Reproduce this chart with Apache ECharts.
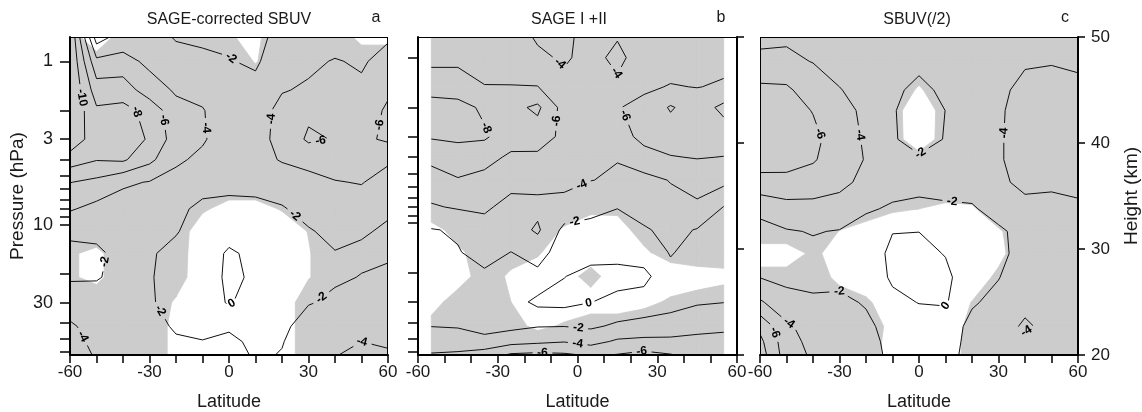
<!DOCTYPE html>
<html>
<head>
<meta charset="utf-8">
<script src="https://cdn.jsdelivr.net/npm/echarts@6/dist/echarts.min.js"></script>
<style>
  html, body { margin: 0; padding: 0; background: #fff; }
  #chart { width: 1142px; height: 412px; }
</style>
</head>
<body>
<div id="chart"></div>
<script>
// Ozone trend (%/decade) versus latitude and pressure, three data sets.
const latitudes = [-60, -50, -40, -30, -20, -10, 0, 10, 20, 30, 40, 50, 60];
const latitudesSage = [-55, -45, -35, -25, -15, -5, 5, 15, 25, 35, 45, 55];
const pressureA = [0.71, 1, 1.5, 2, 3, 4, 5.5, 8, 11, 15, 21, 30, 42, 52, 62.8];
const pressureB = [0.75, 1, 1.5, 2, 3, 4, 5.5, 8, 11, 15, 21, 30, 42, 52, 62.8];
const pressureC = pressureA;

const contourLevels = [-10, -8, -6, -4, -2, 0];
const pressureTicks = [1, 2, 3, 4, 5, 6, 7, 8, 9, 10, 20, 30, 40, 50, 60];
const pressureLabels = [1, 3, 10, 30];
const latLabels = [-60, -30, 0, 30, 60];
const heightRange = [20, 50];
const panelTitles = ['SAGE-corrected SBUV', 'SAGE I +II', 'SBUV(/2)'];
const panelLetters = ['a', 'b', 'c'];

// Trend, SAGE-corrected SBUV (rows follow pressureA, columns follow latitudes)
const trendA = [
  [-12, -1, -3, -3, -1.8, -1.5, -1.6, -1.1, -3.0, -3.4, -3.3, -3.2, -3.8],
  [-12, -4.5, -4.6, -3.6, -2.9, -2.6, -2.1, -1.7, -3.3, -3.7, -4.1, -3.8, -4.6],
  [-12, -7, -7.2, -4.8, -3.8, -3.5, -2.7, -2.6, -3.9, -4.2, -5.0, -4.3, -5.8],
  [-12, -8.3, -8.5, -7.5, -4.5, -4.1, -3.0, -3.2, -4.5, -5.6, -5.7, -5.3, -6.2],
  [-11.5, -8.8, -9, -7.8, -5.0, -4.2, -3.0, -3.3, -4.6, -6.3, -5.9, -5.6, -6.3],
  [-9, -8.1, -8.3, -6.5, -4.3, -3.6, -2.8, -3.1, -4.2, -4.6, -5.0, -5.2, -4.3],
  [-6.05, -5.5, -4.3, -3.9, -3.4, -2.5, -2.4, -2.5, -2.6, -3.4, -3.9, -4.1, -3.2],
  [-4.2, -3.4, -3.1, -3.0, -2.3, -1.7, -1.6, -1.6, -1.9, -2.4, -2.9, -3.0, -2.2],
  [-2.3, -2.4, -2.7, -2.5, -2.1, -1.3, -0.8, -1.1, -1.3, -1.9, -2.3, -2.15, -1.8],
  [-1.6, -1.7, -2.5, -2.15, -1.6, -1.2, 0.3, -0.5, -1.0, -1.5, -1.95, -1.75, -1.8],
  [-1.8, -1.9, -2.4, -2.1, -1.5, -1.1, 0.4, -0.3, -1.0, -1.4, -1.8, -2.05, -2.3],
  [-3.0, -2.6, -2.6, -2.15, -1.5, -1.2, 0.2, -1.0, -1.2, -1.9, -2.3, -2.6, -2.7],
  [-4.3, -3.2, -3.0, -2.6, -1.8, -1.6, -1.7, -1.2, -1.6, -2.8, -3.0, -3.3, -3.2],
  [-4.7, -3.5, -3.2, -2.8, -2.2, -2.05, -2.5, -1.5, -1.9, -3.1, -3.5, -4.0, -3.8],
  [-5.0, -3.8, -3.3, -3.0, -2.5, -2.3, -3.0, -1.7, -2.1, -3.3, -3.9, -4.6, -4.2]
];
// Significance (trend / 1 sigma), SAGE-corrected SBUV; shaded where >= 2
const signifA = [
  [3, 0.5, 3, 3, 3, 3, 2.1, 1.7, 3, 3, 3, 1.5, 1.5],
  [3, 3, 3, 3, 3, 3, 3, 1.9, 3, 3, 3, 3, 3],
  [3, 3, 3, 3, 3, 3, 3, 3, 3, 3, 3, 3, 3],
  [3, 3, 3, 3, 3, 3, 3, 3, 3, 3, 3, 3, 3],
  [3, 3, 3, 3, 3, 3, 3, 3, 3, 3, 3, 3, 3],
  [3, 3, 3, 3, 3, 3, 3, 3, 3, 3, 3, 3, 3],
  [3, 3, 3, 3, 3, 3, 3, 3, 3, 3, 3, 3, 3],
  [3, 3, 3, 3, 3, 2.2, 1.5, 1.5, 2.1, 3, 3, 3, 3],
  [3, 3, 3, 3, 2.8, 1.2, 1.0, 1.0, 1.2, 2.05, 3, 3, 3],
  [2.2, 1.6, 3, 3, 2.8, 1.0, 1.0, 1.0, 1.0, 1.9, 3, 3, 3],
  [2.2, 1.6, 3, 3, 2.7, 1.0, 1.0, 1.0, 1.0, 1.9, 3, 3, 3],
  [3, 3, 3, 3, 1.8, 1.0, 1.0, 1.0, 1.0, 3, 3, 3, 3],
  [3, 3, 3, 3, 1.5, 1.0, 1.0, 1.0, 1.0, 3, 3, 3, 3],
  [3, 3, 3, 3, 1.5, 1.0, 1.0, 1.0, 1.0, 3, 3, 3, 3],
  [3, 3, 3, 3, 1.5, 1.0, 1.0, 1.0, 1.0, 3, 3, 3, 3]
];

// Trend, SAGE I + II (rows follow pressureB, columns follow latitudesSage)
const trendB = [
  [-5.2, -5.3, -5.0, -4.8, -3.8, -3.7, -4.5, -4.1, -4.6, -4.8, -5.0, -5.2],
  [-5.5, -5.6, -5.4, -5.3, -4.3, -3.8, -4.5, -3.6, -4.8, -5.2, -5.4, -5.5],
  [-7.0, -6.8, -6.05, -6.05, -6.05, -4.4, -4.6, -4.3, -5.7, -6.1, -5.95, -6.2],
  [-9.0, -8.8, -7.6, -7.4, -8.4, -5.2, -4.9, -5.9, -6.5, -8.2, -7.0, -8.5],
  [-8.2, -8.5, -8.3, -6.8, -7.0, -5.5, -5.0, -5.4, -6.4, -7.0, -6.6, -7.0],
  [-6.5, -6.8, -6.6, -5.7, -5.6, -5.2, -4.8, -4.1, -5.5, -5.9, -6.1, -5.95],
  [-5.2, -5.9, -5.5, -4.6, -4.6, -4.5, -4.05, -3.7, -3.3, -4.1, -4.7, -4.6],
  [-3.8, -4.2, -4.3, -3.4, -3.5, -3.4, -2.4, -2.05, -2.8, -3.3, -3.7, -1.95],
  [-1.9, -2.2, -3.3, -3.0, -4.3, -1.5, -1.6, -1.4, -1.8, -2.5, -1.9, -1.6],
  [-1.6, -1.9, -2.6, -1.98, -2.8, -1.0, -0.7, -0.8, -1.1, -2.1, -1.5, -1.3],
  [-1.5, -1.5, -1.7, -1.2, -1.5, -0.05, 0.6, 0.8, 0.6, -1.6, -1.2, -1.2],
  [-1.7, -1.5, -1.4, -0.9, 0.5, 0.6, 0.05, -0.6, -0.9, -1.6, -1.8, -1.95],
  [-1.95, -1.8, -1.3, -1.5, -1.9, -1.95, -1.7, -2.3, -2.6, -2.5, -3.3, -3.6],
  [-3.4, -3.4, -2.6, -3.3, -3.6, -3.9, -3.3, -4.3, -4.5, -4.6, -4.6, -4.6],
  [-4.1, -4.2, -5.0, -6.3, -6.5, -6.3, -5.8, -6.1, -6.6, -6.1, -5.5, -5.2]
];
const signifB = [
  [3, 3, 3, 3, 3, 3, 3, 3, 3, 3, 3, 3],
  [3, 3, 3, 3, 3, 3, 3, 3, 3, 3, 3, 3],
  [3, 3, 3, 3, 3, 3, 3, 3, 3, 3, 3, 3],
  [3, 3, 3, 3, 3, 3, 3, 3, 3, 3, 3, 3],
  [3, 3, 3, 3, 3, 3, 3, 3, 3, 3, 3, 3],
  [3, 3, 3, 3, 3, 3, 3, 3, 3, 3, 3, 3],
  [3, 3, 3, 3, 3, 3, 3, 3, 3, 3, 3, 3],
  [3, 3, 3, 3, 3, 3, 2.5, 2.3, 3, 3, 3, 3],
  [1.5, 2.5, 3, 3, 3, 1.8, 1.0, 1.5, 2.5, 3, 3, 3],
  [1.2, 1.8, 2.5, 2.5, 2.2, 1.0, 1.0, 1.0, 1.8, 2.6, 3, 3],
  [1.2, 1.4, 2.6, 1.8, 1.2, 1.3, 2.6, 1.0, 1.2, 1.2, 1.3, 1.5],
  [1.5, 2.6, 2.8, 2.0, 1.0, 1.0, 1.2, 1.0, 1.6, 2.2, 2.6, 3],
  [2.4, 2.8, 3, 2.6, 1.6, 2.2, 2.8, 3, 3, 3, 3, 3],
  [3, 3, 3, 3, 3, 3, 3, 3, 3, 3, 3, 3],
  [3, 3, 3, 3, 3, 3, 3, 3, 3, 3, 3, 3]
];

// Trend, SBUV(/2) (rows follow pressureC, columns follow latitudes)
const trendC = [
  [-3.6, -3.8, -3.3, -3.2, -3.0, -2.8, -2.7, -2.8, -3.0, -3.3, -3.5, -3.6, -3.6],
  [-4.4, -4.3, -3.95, -3.6, -3.3, -2.9, -2.5, -2.8, -3.1, -3.6, -3.8, -3.9, -3.8],
  [-6.5, -6.4, -4.8, -4.05, -3.6, -2.4, -1.5, -2.4, -3.2, -3.6, -4.5, -4.6, -4.3],
  [-7.0, -7.0, -5.9, -4.5, -3.7, -2.2, -0.8, -2.02, -3.2, -3.7, -4.9, -5.0, -4.8],
  [-7.2, -7.2, -6.6, -4.8, -3.8, -2.2, -1.2, -2.1, -3.2, -3.8, -4.8, -5.1, -5.0],
  [-6.8, -6.9, -6.2, -4.9, -3.9, -2.5, -2.3, -2.6, -3.2, -3.8, -4.8, -5.0, -4.9],
  [-5.4, -5.3, -5.0, -4.5, -3.5, -2.6, -2.5, -2.7, -2.8, -3.6, -4.5, -4.4, -4.6],
  [-2.4, -3.3, -3.4, -3.2, -2.2, -1.8, -1.6, -1.7, -1.8, -2.7, -3.4, -3.3, -3.6],
  [-1.5, -1.85, -2.1, -1.9, -1.3, -0.05, -0.02, -0.6, -1.2, -1.7, -2.6, -2.8, -3.0],
  [-1.3, -1.4, -1.6, -1.5, -1.0, 0.4, 0.6, -0.1, -1.0, -1.6, -2.6, -2.8, -3.0],
  [-1.95, -1.6, -1.5, -1.5, -1.3, 0.3, 0.7, 0.5, -1.4, -1.95, -2.8, -3.0, -3.0],
  [-4.3, -2.6, -2.3, -2.4, -1.85, -0.5, 0.05, 0.2, -1.85, -2.4, -3.3, -3.1, -3.0],
  [-7.5, -4.4, -3.0, -2.8, -2.4, -1.3, -1.0, -1.2, -2.4, -2.8, -4.4, -3.2, -3.1],
  [-8.5, -4.8, -3.4, -3.0, -2.6, -1.5, -1.3, -1.3, -2.5, -2.9, -3.3, -3.2, -3.1],
  [-9.0, -5.0, -3.7, -3.2, -2.7, -1.6, -1.5, -1.4, -2.6, -3.0, -3.2, -3.2, -3.1]
];
const signifC = [
  [3, 3, 3, 3, 3, 3, 3, 3, 3, 3, 3, 3, 3],
  [3, 3, 3, 3, 3, 3, 3, 3, 3, 3, 3, 3, 3],
  [3, 3, 3, 3, 3, 3, 1.8, 3, 3, 3, 3, 3, 3],
  [3, 3, 3, 3, 3, 3, 0.3, 3, 3, 3, 3, 3, 3],
  [3, 3, 3, 3, 3, 3, 0.5, 3, 3, 3, 3, 3, 3],
  [3, 3, 3, 3, 3, 3, 3, 3, 3, 3, 3, 3, 3],
  [3, 3, 3, 3, 3, 3, 3, 3, 3, 3, 3, 3, 3],
  [3, 3, 3, 3, 3, 2.2, 2.0, 1.7, 1.8, 3, 3, 3, 3],
  [3, 3, 3, 1.95, 1.2, 1.0, 1.0, 1.0, 1.0, 1.8, 3, 3, 3],
  [1.2, 1.2, 2.3, 1.4, 1.0, 1.0, 1.0, 1.0, 1.0, 1.6, 3, 3, 3],
  [2.6, 2.6, 3, 1.5, 1.0, 1.0, 1.0, 1.0, 1.2, 2.3, 3, 3, 3],
  [3, 3, 3, 3, 2.3, 1.0, 1.0, 1.0, 2.05, 3, 3, 3, 3],
  [3, 3, 3, 3, 3, 1.5, 1.0, 1.0, 2.5, 3, 3, 3, 3],
  [3, 3, 3, 3, 3, 1.3, 1.0, 1.0, 2.7, 3, 3, 3, 3],
  [3, 3, 3, 3, 3, 1.3, 1.0, 1.0, 2.7, 3, 3, 3, 3]
];

const FONT = '"Liberation Sans", Arial, Helvetica, sans-serif';
const SHADE = '#cccccc';
const INK = '#111111';
const SIGNIF_LEVEL = 2;

// ---- marching squares: iso-lines of a grid, chained into polylines ----
function isoLines(xs, ys, Z, lev) {
  const val = (r, c) => (Z[r][c] === lev ? Z[r][c] + 1e-7 : Z[r][c]);
  const pts = new Map(), adj = new Map();
  const node = (key, r1, c1, r2, c2) => {
    if (!pts.has(key)) {
      const z1 = val(r1, c1), z2 = val(r2, c2), t = (lev - z1) / (z2 - z1);
      pts.set(key, [xs[c1] + t * (xs[c2] - xs[c1]), ys[r1] + t * (ys[r2] - ys[r1])]);
    }
    return key;
  };
  const link = (a, b) => {
    if (!adj.has(a)) adj.set(a, []);
    if (!adj.has(b)) adj.set(b, []);
    adj.get(a).push(b); adj.get(b).push(a);
  };
  for (let r = 0; r < ys.length - 1; r++) {
    for (let c = 0; c < xs.length - 1; c++) {
      const za = val(r, c), zb = val(r, c + 1), zc = val(r + 1, c + 1), zd = val(r + 1, c);
      const e = [];
      if ((za < lev) !== (zb < lev)) e.push(node('h' + r + '_' + c, r, c, r, c + 1));
      if ((zb < lev) !== (zc < lev)) e.push(node('v' + r + '_' + (c + 1), r, c + 1, r + 1, c + 1));
      if ((zd < lev) !== (zc < lev)) e.push(node('h' + (r + 1) + '_' + c, r + 1, c, r + 1, c + 1));
      if ((za < lev) !== (zd < lev)) e.push(node('v' + r + '_' + c, r, c, r + 1, c));
      if (e.length === 2) link(e[0], e[1]);
      else if (e.length === 4) {
        const centre = (za + zb + zc + zd) / 4;
        if ((centre < lev) === (za < lev)) { link(e[0], e[1]); link(e[2], e[3]); }
        else { link(e[0], e[3]); link(e[1], e[2]); }
      }
    }
  }
  const seen = new Set(), paths = [];
  const walk = (start) => {
    const path = [start];
    seen.add(start);
    let cur = start;
    for (;;) {
      const nxt = adj.get(cur).find(k => !seen.has(k));
      if (nxt === undefined) break;
      seen.add(nxt); path.push(nxt); cur = nxt;
    }
    const coords = path.map(k => pts.get(k));
    if (path.length > 2 && adj.get(cur).includes(start)) coords.push(coords[0]);
    paths.push(coords);
  };
  for (const [k, list] of adj) if (list.length === 1 && !seen.has(k)) walk(k);
  for (const k of adj.keys()) if (!seen.has(k)) walk(k);
  return paths;
}

// ---- cell polygons of the region where the grid value >= threshold ----
function shadedCells(xs, ys, S, thr) {
  const polys = [];
  for (let r = 0; r < ys.length - 1; r++) {
    for (let c = 0; c < xs.length - 1; c++) {
      const corners = [[r, c], [r, c + 1], [r + 1, c + 1], [r + 1, c]];
      const poly = [];
      for (let i = 0; i < 4; i++) {
        const [r1, c1] = corners[i], [r2, c2] = corners[(i + 1) % 4];
        const z1 = S[r1][c1], z2 = S[r2][c2];
        if (z1 >= thr) poly.push([xs[c1], ys[r1]]);
        if ((z1 >= thr) !== (z2 >= thr)) {
          const t = (thr - z1) / (z2 - z1);
          poly.push([xs[c1] + t * (xs[c2] - xs[c1]), ys[r1] + t * (ys[r2] - ys[r1])]);
        }
      }
      if (poly.length >= 3) polys.push(poly);
    }
  }
  return polys;
}

// ---- polyline helpers in pixel space ----
function cumulative(px) {
  const cum = [0];
  for (let i = 1; i < px.length; i++) {
    cum.push(cum[i - 1] + Math.hypot(px[i][0] - px[i - 1][0], px[i][1] - px[i - 1][1]));
  }
  return cum;
}
function pointAt(px, cum, s) {
  for (let i = 1; i < px.length; i++) {
    if (cum[i] >= s) {
      const seg = cum[i] - cum[i - 1] || 1, t = (s - cum[i - 1]) / seg;
      return {
        p: [px[i - 1][0] + t * (px[i][0] - px[i - 1][0]), px[i - 1][1] + t * (px[i][1] - px[i - 1][1])],
        ang: Math.atan2(px[i][1] - px[i - 1][1], px[i][0] - px[i - 1][0])
      };
    }
  }
  const n = px.length - 1;
  return { p: px[n], ang: Math.atan2(px[n][1] - px[n - 1][1], px[n][0] - px[n - 1][0]) };
}
function subPath(px, cum, s0, s1) {
  const out = [pointAt(px, cum, s0).p];
  for (let i = 0; i < px.length; i++) if (cum[i] > s0 && cum[i] < s1) out.push(px[i]);
  out.push(pointAt(px, cum, s1).p);
  return out;
}

function panelRenderer(xs, pressures, T, S) {
  const ys = pressures.map(p => Math.log10(p));
  const cells = shadedCells(xs, ys, S, SIGNIF_LEVEL);
  const lines = contourLevels.map(lev => ({ lev, paths: isoLines(xs, ys, T, lev) }));
  return function (params, api) {
    const children = [];
    cells.forEach(poly => {
      children.push({
        type: 'polygon', silent: true,
        shape: { points: poly.map(p => api.coord(p)) },
        style: { fill: SHADE, stroke: SHADE, lineWidth: 0.8 }
      });
    });
    lines.forEach(({ lev, paths }) => {
      const text = String(lev);
      const half = text.length * 3.7 + 2.5;
      paths.forEach(path => {
        const px = path.map(p => api.coord(p));
        if (px.length < 2) return;
        const cum = cumulative(px);
        const L = cum[cum.length - 1];
        const n = L < 40 ? 0 : Math.max(1, Math.round(L / 280));
        let start = 0;
        const pieces = [];
        for (let k = 0; k < n; k++) {
          const s = L * (k + 0.5) / n;
          pieces.push([start, s - half]);
          start = s + half;
          const at = pointAt(px, cum, s);
          let a = at.ang;
          if (a > Math.PI / 2) a -= Math.PI;
          if (a < -Math.PI / 2) a += Math.PI;
          children.push({
            type: 'text', silent: true, z2: 10,
            x: at.p[0], y: at.p[1], rotation: -a,
            style: {
              text, fill: '#000', font: 'bold 12px ' + FONT,
              align: 'center', verticalAlign: 'middle',
              textAlign: 'center', textVerticalAlign: 'middle'
            }
          });
        }
        pieces.push([start, L]);
        pieces.forEach(([s0, s1]) => {
          if (s1 - s0 < 0.5) return;
          children.push({
            type: 'polyline', silent: true, z2: 5,
            shape: { points: subPath(px, cum, s0, s1) },
            style: { stroke: INK, lineWidth: 1, fill: 'none' }
          });
        });
      });
    });
    const cs = params.coordSys;
    children.push({
      type: 'rect', silent: true, z2: 20,
      shape: { x: cs.x, y: cs.y, width: cs.width, height: cs.height },
      style: { fill: 'none', stroke: '#000', lineWidth: 2 }
    });
    return { type: 'group', children };
  };
}

const panels = [
  { xs: latitudes, p: pressureA, T: trendA, S: signifA, left: 70, width: 318 },
  { xs: latitudesSage, p: pressureB, T: trendB, S: signifB, left: 418, width: 319 },
  { xs: latitudes, p: pressureC, T: trendC, S: signifC, left: 760, width: 318 }
];

const textStyle = { fontFamily: FONT, color: '#1a1a1a' };

const option = {
  animation: false,
  backgroundColor: '#ffffff',
  grid: panels.map(pn => ({
    left: pn.left, top: 37, width: pn.width, height: 318,
    containLabel: false, outerBoundsMode: 'none'
  })),
  xAxis: panels.map((pn, i) => ({
    gridIndex: i, type: 'value', min: -60, max: 60, interval: 10, z: 10,
    axisLine: { show: true, onZero: false, lineStyle: { color: '#000', width: 2 } },
    axisTick: { show: true, length: 8, lineStyle: { color: '#000', width: 1.5 } },
    axisLabel: {
      customValues: latLabels, showMinLabel: true, showMaxLabel: true,
      fontSize: 17, margin: 9, ...textStyle,
      formatter: v => String(Math.round(v))
    },
    splitLine: { show: false },
    name: 'Latitude', nameLocation: 'middle', nameGap: 38,
    nameTextStyle: { fontSize: 18, ...textStyle }
  })),
  yAxis: [
    ...panels.map((pn, i) => ({
      gridIndex: i, type: 'value', inverse: true, z: 10, show: i < 2,
      min: Math.log10(pn.p[0]), max: Math.log10(pn.p[pn.p.length - 1]),
      axisLine: { show: true, onZero: false, lineStyle: { color: '#000', width: 2 } },
      axisTick: {
        show: true, length: 10, customValues: pressureTicks.map(v => Math.log10(v)),
        lineStyle: { color: '#000', width: 1.5 }
      },
      axisLabel: {
        show: i === 0, customValues: pressureLabels.map(v => Math.log10(v)),
        formatter: v => String(Math.round(Math.pow(10, v))),
        fontSize: 18, margin: 17, ...textStyle
      },
      splitLine: { show: false },
      name: i === 0 ? 'Pressure (hPa)' : '', nameLocation: 'middle', nameGap: 43, nameRotate: 90,
      nameTextStyle: { fontSize: 19, ...textStyle }
    })),
    {
      gridIndex: 1, type: 'value', position: 'right', min: heightRange[0], max: heightRange[1], interval: 10, z: 10,
      axisLine: { show: true, onZero: false, lineStyle: { color: '#000', width: 2 } },
      axisTick: { show: true, length: 7, lineStyle: { color: '#000', width: 1.5 } },
      axisLabel: { show: false }, splitLine: { show: false }
    },
    {
      gridIndex: 2, type: 'value', position: 'right', min: heightRange[0], max: heightRange[1], interval: 10, z: 10,
      axisLine: { show: true, onZero: false, lineStyle: { color: '#000', width: 2 } },
      axisTick: { show: true, length: 7, lineStyle: { color: '#000', width: 1.5 } },
      axisLabel: { show: true, fontSize: 17, margin: 13, ...textStyle },
      splitLine: { show: false },
      name: 'Height (km)', nameLocation: 'middle', nameGap: 44, nameRotate: 90,
      nameTextStyle: { fontSize: 19, ...textStyle }
    }
  ],
  graphic: [
    ...panelTitles.map((t, i) => ({
      type: 'text', x: [229, 569, 917][i], y: 20,
      style: { text: t, font: '16px ' + FONT, fill: '#1a1a1a', align: 'center', verticalAlign: 'middle', textAlign: 'center', textVerticalAlign: 'middle' }
    })),
    ...panelLetters.map((t, i) => ({
      type: 'text', x: [376, 721, 1065][i], y: 18,
      style: { text: t, font: '16px ' + FONT, fill: '#1a1a1a', align: 'center', verticalAlign: 'middle', textAlign: 'center', textVerticalAlign: 'middle' }
    }))
  ],
  series: [
    ...panels.map((pn, i) => ({
      type: 'custom', xAxisIndex: i, yAxisIndex: i, silent: true, clip: true,
      data: [[0, Math.log10(10)]],
      renderItem: panelRenderer(pn.xs, pn.p, pn.T, pn.S)
    })),
    { type: 'line', xAxisIndex: 1, yAxisIndex: 3, data: [] },
    { type: 'line', xAxisIndex: 2, yAxisIndex: 4, data: [] }
  ]
};

const chart = echarts.init(document.getElementById('chart'), null, { renderer: 'canvas' });
chart.setOption(option);
</script>
</body>
</html>
